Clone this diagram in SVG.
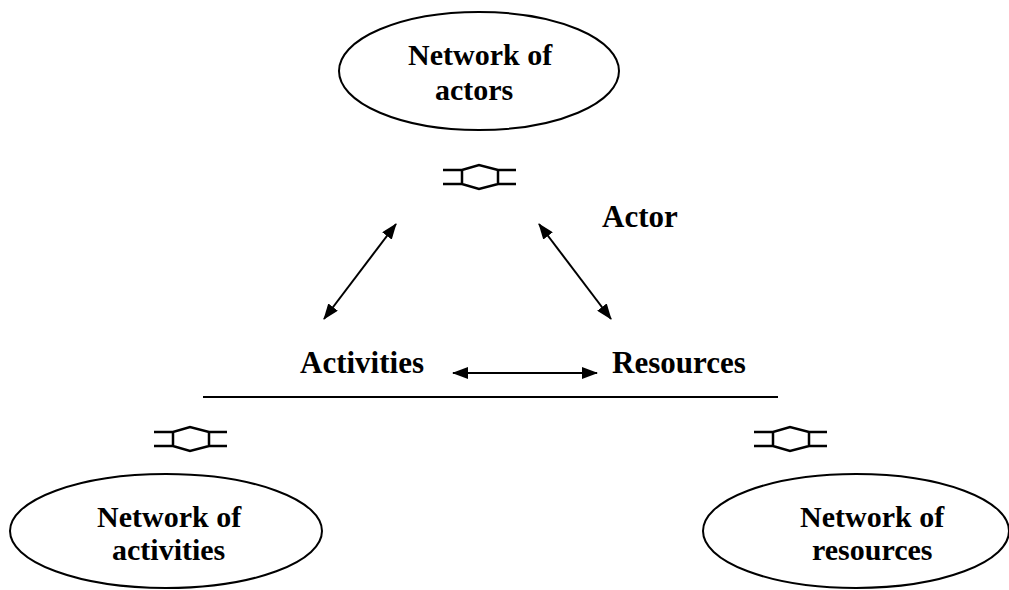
<svg xmlns="http://www.w3.org/2000/svg" width="1009" height="590" viewBox="0 0 1009 590">
<style>
.node ellipse{fill:#fff;stroke:#000;stroke-width:2}
.lbl{font-family:'Liberation Serif','DejaVu Serif','Noto Serif',serif;font-weight:700;font-size:30px;fill:#000}
.big{font-size:31px}
.arr{stroke:#000;stroke-width:2;fill:none;marker-start:url(#ah);marker-end:url(#ah)}
.iface{stroke:#000;stroke-width:2.5;fill:none}
</style>
<defs>
<marker id="ah" viewBox="0 0 16 12" refX="15" refY="6" markerWidth="16" markerHeight="12" markerUnits="userSpaceOnUse" orient="auto-start-reverse">
<path d="M0,0 L16,6 L0,12 z" fill="#000"/>
</marker>
<path id="if" class="iface" d="M0,0 H19 L36,-5 L55,0 H73 M0,14 H19 L36,19 L55,14 H73 M19,0 V14 M55,0 V14"/>
</defs>
<rect width="1009" height="590" fill="#fff"/>
<g id="n-actors" class="node">
<ellipse cx="479" cy="71" rx="140" ry="59"/>
<text class="lbl" x="408" y="65" font-family="Liberation Serif, serif">Network of</text>
<text class="lbl" x="435" y="100" font-family="Liberation Serif, serif">actors</text>
</g>
<g id="n-activities" class="node">
<ellipse cx="166" cy="531" rx="156" ry="57"/>
<text class="lbl" x="97" y="527">Network of</text>
<text class="lbl" x="112" y="560">activities</text>
</g>
<g id="n-resources" class="node">
<ellipse cx="856" cy="531" rx="153" ry="57"/>
<text class="lbl" x="800" y="527">Network of</text>
<text class="lbl" x="812" y="560">resources</text>
</g>
<g id="n-actor"><text class="lbl big" x="602" y="227">Actor</text></g>
<g id="n-act"><text class="lbl big" x="300" y="373">Activities</text></g>
<g id="n-res"><text class="lbl big" x="612" y="373">Resources</text></g>
<g id="connectors">
<line class="arr" x1="324" y1="319" x2="396" y2="224"/>
<line class="arr" x1="539" y1="224" x2="611" y2="319"/>
<line class="arr" x1="453" y1="373" x2="597" y2="373"/>
<line x1="203" y1="397" x2="778" y2="397" stroke="#000" stroke-width="2"/>
<use href="#if" x="443" y="170"/>
<use href="#if" x="154" y="432"/>
<use href="#if" x="754" y="432"/>
</g>
</svg>
